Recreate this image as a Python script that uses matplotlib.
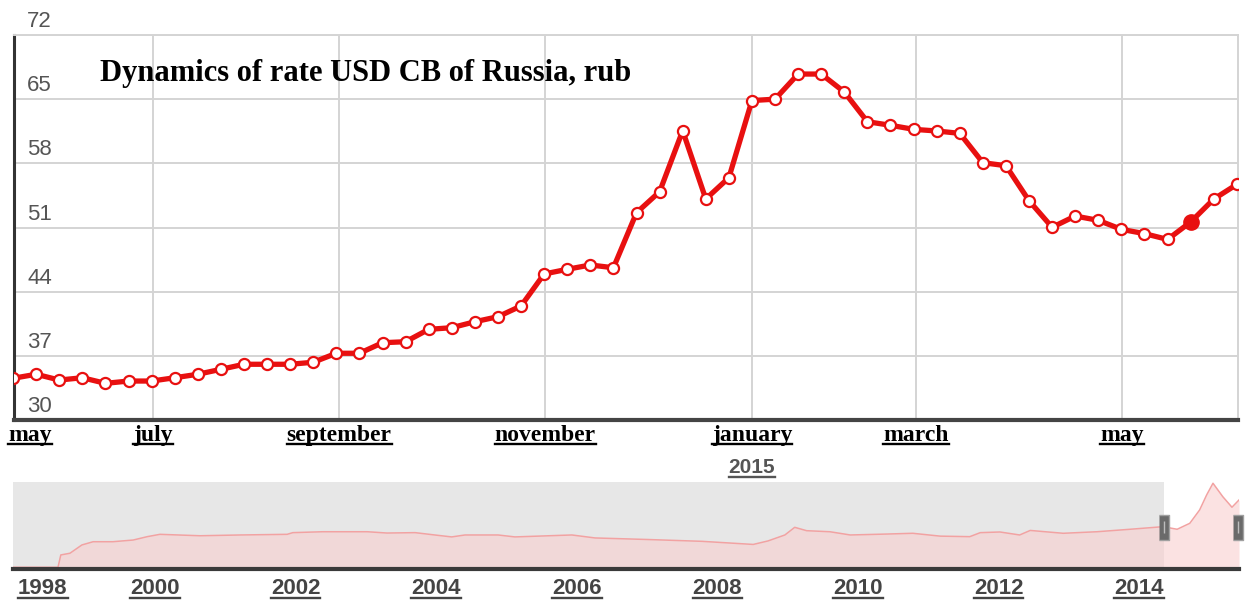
import matplotlib.pyplot as plt
from matplotlib import transforms
from matplotlib.lines import Line2D

# weekly USD rate of the Central Bank, rub (selected window, may 2014 - june 2015)
rate_rub = [34.55, 34.99, 34.36, 34.61, 34.00, 34.25, 34.25, 34.61, 34.99, 35.53,
            36.08, 36.08, 36.08, 36.30, 37.28, 37.28, 38.43, 38.54, 39.89, 40.07,
            40.72, 41.27, 42.44, 45.93, 46.44, 46.91, 46.61, 52.61, 54.90, 61.56,
            54.11, 56.43, 64.85, 65.00, 67.74, 67.74, 65.78, 62.54, 62.15, 61.71,
            61.53, 61.27, 58.07, 57.74, 53.92, 51.02, 52.25, 51.78, 50.80, 50.33,
            49.70, 51.60, 54.10, 55.70]
current_week = 51

# month gridlines, in weeks from the start of the window
month_names = ['july', 'september', 'november', 'january', 'march', 'may']
month_pos = [6.06, 14.12, 23.04, 32.0, 39.1, 48.03]
first_month = 'may'
year_name = '2015'
year_month = 'january'
y_ticks = [30, 37, 44, 51, 58, 65, 72]

# whole history for the navigator
nav_years = [1997.98, 1998.62, 1998.66, 1998.79, 1998.96, 1999.12, 1999.40, 1999.69,
             1999.89, 2000.07, 2000.64, 2001.21, 2001.88, 2001.96, 2002.39, 2003.02,
             2003.30, 2003.70, 2003.98, 2004.22, 2004.41, 2004.88, 2005.12, 2005.93,
             2006.26, 2007.01, 2007.78, 2008.51, 2008.72, 2008.96, 2009.10, 2009.27,
             2009.60, 2009.89, 2010.40, 2010.78, 2011.17, 2011.59, 2011.74, 2012.02,
             2012.30, 2012.45, 2012.92, 2013.40, 2013.87, 2014.34, 2014.54, 2014.72,
             2014.86, 2014.96, 2015.05, 2015.19, 2015.32, 2015.42]
nav_values = [3.2, 3.2, 12.7, 14.0, 20.4, 22.9, 22.9, 24.2,
              26.8, 28.6, 27.5, 28.1, 28.6, 29.9, 30.6, 30.6,
              29.6, 29.9, 28.1, 26.6, 28.1, 28.1, 26.6, 28.1,
              25.8, 24.6, 23.2, 20.8, 23.5, 28.1, 34.0, 31.4,
              30.6, 28.1, 28.8, 29.4, 27.2, 26.8, 29.9, 30.4,
              28.1, 31.6, 29.4, 30.6, 32.5, 34.5, 32.5, 37.1,
              47.4, 59.0, 68.0, 57.6, 49.5, 55.1]
nav_year_ticks = [1998, 2000, 2002, 2004, 2006, 2008, 2010, 2012, 2014]
sel_start, sel_end = 2014.36, 2015.40

title = 'Dynamics of rate USD CB of Russia, rub'

SANS = ['Liberation Sans', 'DejaVu Sans']
SERIF = ['Liberation Serif', 'DejaVu Serif']

fig = plt.figure(figsize=(12.45, 6.01), dpi=100)
W, H = 1245, 601

ax = fig.add_axes([14 / W, (H - 420) / H, 1224 / W, 385 / H])
weeks = list(range(len(rate_rub)))
ax.plot(weeks, rate_rub, color='#e81010', lw=3.8, marker='o', ms=8,
        mfc='white', mec='#e81010', mew=1.6, zorder=3)
ax.plot([weeks[current_week]], [rate_rub[current_week]], 'o', color='#e81010',
        ms=11, zorder=4)
ax.set_xlim(0.04, 53.05)
ax.set_ylim(30, 72)
ax.set_xticks(month_pos)
ax.set_yticks(y_ticks)
ax.tick_params(length=0, labelbottom=False, labelleft=False)
ax.grid(True, color='#d4d4d4', lw=1.4)
for s in ['top', 'right']:
    ax.spines[s].set_color('#d4d4d4')
    ax.spines[s].set_linewidth(1.4)
ax.spines['left'].set_color('#333333')
ax.spines['left'].set_linewidth(2.2)
ax.spines['bottom'].set_color('#444444')
ax.spines['bottom'].set_linewidth(3)
ax.set_axisbelow(True)

ytr = transforms.offset_copy(ax.get_yaxis_transform(), fig=fig, x=13, y=8, units='dots')
for v in y_ticks:
    ax.text(0, v, str(v), transform=ytr, fontsize=16, color='#555555',
            family=SANS, ha='left', va='baseline', clip_on=False)

fig.text(100 / W, (H - 81) / H, title, fontsize=22, fontweight='bold',
         family=SERIF, color='black', ha='left', va='baseline')

underlined = []
mtr = transforms.offset_copy(
    transforms.blended_transform_factory(ax.transData, ax.transAxes),
    fig=fig, y=-21, units='dots')
for name, pos in zip(month_names, month_pos):
    t = ax.text(pos, 0, name, transform=mtr, fontsize=17, fontweight='bold',
                family=SERIF, ha='center', va='baseline', clip_on=False)
    underlined.append((t, 'black', 1.7, 3))
t = ax.text(0, 0, first_month,
            transform=transforms.offset_copy(ax.transAxes, fig=fig, x=-6, y=-21, units='dots'),
            fontsize=17, fontweight='bold', family=SERIF, ha='left', va='baseline')
underlined.append((t, 'black', 1.7, 3))
ytr2 = transforms.offset_copy(
    transforms.blended_transform_factory(ax.transData, ax.transAxes),
    fig=fig, y=-53, units='dots')
t = ax.text(month_pos[month_names.index(year_month)], 0, year_name, transform=ytr2,
            fontsize=15, fontweight='bold', family=SANS, color='#555555',
            ha='center', va='baseline', clip_on=False)
underlined.append((t, '#555555', 1.7, 4))

# navigator
nav = fig.add_axes([13 / W, (H - 569) / H, 1226 / W, 87.3 / H])
nav.set_xlim(1997.98, 2015.42)
nav.set_ylim(1.85, 69.2)
nav.axvspan(1997.98, sel_start, color='#e7e7e7', lw=0, zorder=0)
nav.fill_between(nav_years, nav_values, 0, color='#f9cfcf', alpha=0.6, lw=0, zorder=1)
nav.plot(nav_years, nav_values, color='#f2a2a2', lw=1.1, zorder=2)
handle = [(-0.4, -1), (0.4, -1), (0.4, 1), (-0.4, 1)]
for hx in [sel_start, sel_end]:
    nav.plot([hx], [34.3], marker=handle, ms=18, mfc='#6a6a6a', mec='#a0a0a0',
             mew=1, clip_on=False, zorder=5)
    nav.plot([hx], [34.3], marker='|', ms=8, mec='#bdbdbd', mew=1, clip_on=False, zorder=6)
nav.set_xticks([])
nav.set_yticks([])
for s in ['top', 'right', 'left']:
    nav.spines[s].set_visible(False)
nav.spines['bottom'].set_color('#3a3a3a')
nav.spines['bottom'].set_linewidth(3)

ntr = transforms.offset_copy(
    transforms.blended_transform_factory(nav.transData, nav.transAxes),
    fig=fig, y=-25, units='dots')
for yr in nav_year_ticks:
    if yr == nav_year_ticks[0]:
        tr = transforms.offset_copy(nav.transAxes, fig=fig, x=5, y=-25, units='dots')
        t = nav.text(0, 0, str(yr), transform=tr, fontsize=16, fontweight='bold',
                     family=SANS, color='#444444', ha='left', va='baseline')
    else:
        t = nav.text(yr, 0, str(yr), transform=ntr, fontsize=16, fontweight='bold',
                     family=SANS, color='#444444', ha='center', va='baseline', clip_on=False)
    underlined.append((t, '#444444', 1.7, 4))

fig.canvas.draw()
renderer = fig.canvas.get_renderer()
for t, c, lw, gap in underlined:
    bb = t.get_window_extent(renderer)
    x0, y0 = t.get_transform().transform(t.get_position())
    fig.add_artist(Line2D([bb.x0, bb.x1], [y0 - gap, y0 - gap], color=c, lw=lw,
                          transform=transforms.IdentityTransform()))

fig.savefig('out.png', dpi=100)
